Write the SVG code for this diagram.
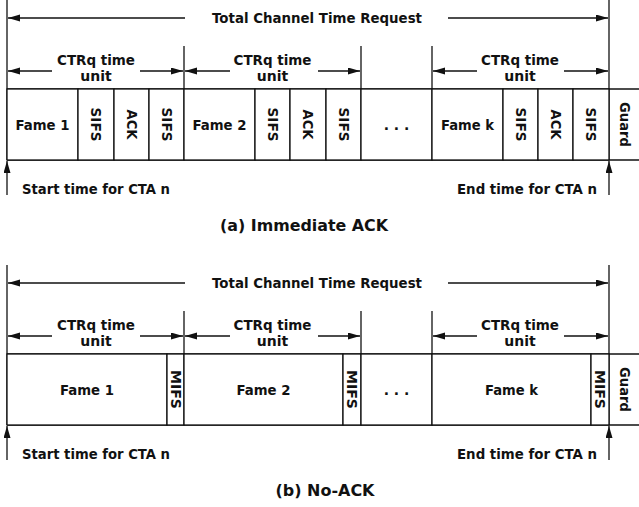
<svg xmlns="http://www.w3.org/2000/svg" width="639" height="507" viewBox="0 0 639 507">
<defs>
<style>
text{font-family:"DejaVu Sans","Liberation Sans",sans-serif;font-weight:bold;font-size:14px;fill:#111;}
.cap{font-size:16px;}
.c{text-anchor:middle;}
.cell{fill:#fff;stroke:#111;stroke-width:1.3;}
.ln{stroke:#111;stroke-width:1.3;fill:none;}
.ar{stroke:#111;stroke-width:1.3;fill:none;marker-end:url(#ah);}
</style>
<marker id="ah" markerUnits="userSpaceOnUse" markerWidth="13" markerHeight="8" refX="12" refY="3.5" orient="auto">
<path d="M0,0 L12,3.5 L0,7 z" fill="#111"/>
</marker>
</defs>
<rect width="639" height="507" fill="#fff"/>

<!-- ===== (a) Immediate ACK ===== -->
<g id="a-frame">
<line class="ln" x1="7" y1="89" x2="639" y2="89"/>
<line class="ln" x1="7" y1="160" x2="639" y2="160"/>
<line class="ln" x1="7" y1="0" x2="7" y2="160"/>
<line class="ln" x1="609" y1="0" x2="609" y2="160"/>
<line class="ln" x1="184" y1="46" x2="184" y2="160"/>
<line class="ln" x1="361" y1="46" x2="361" y2="160"/>
<line class="ln" x1="432" y1="46" x2="432" y2="160"/>
<text class="c" x="317" y="23" textLength="210" lengthAdjust="spacingAndGlyphs">Total Channel Time Request</text>
</g>
<g id="a-unit1"><text class="c" x="96" y="64.5" textLength="78" lengthAdjust="spacingAndGlyphs">CTRq time</text><text class="c" x="96" y="80.5">unit</text></g>
<g id="a-unit2"><text class="c" x="272.5" y="64.5" textLength="78" lengthAdjust="spacingAndGlyphs">CTRq time</text><text class="c" x="272.5" y="80.5">unit</text></g>
<g id="a-unit3"><text class="c" x="520" y="64.5" textLength="78" lengthAdjust="spacingAndGlyphs">CTRq time</text><text class="c" x="520" y="80.5">unit</text></g>

<g id="a-f1"><rect class="cell" x="7" y="89" width="71" height="71"/><text class="c" x="42.5" y="129.5" textLength="54" lengthAdjust="spacingAndGlyphs">Fame 1</text></g>
<g id="a-s1"><rect class="cell" x="78" y="89" width="36" height="71"/><text class="c" transform="translate(96,124.5) rotate(90)" y="5" textLength="34" lengthAdjust="spacingAndGlyphs">SIFS</text></g>
<g id="a-a1"><rect class="cell" x="114" y="89" width="35" height="71"/><text class="c" transform="translate(131.5,124.5) rotate(90)" y="5" textLength="30" lengthAdjust="spacingAndGlyphs">ACK</text></g>
<g id="a-s2"><rect class="cell" x="149" y="89" width="35" height="71"/><text class="c" transform="translate(166.5,124.5) rotate(90)" y="5" textLength="34" lengthAdjust="spacingAndGlyphs">SIFS</text></g>
<g id="a-f2"><rect class="cell" x="184" y="89" width="71" height="71"/><text class="c" x="219.5" y="129.5" textLength="54" lengthAdjust="spacingAndGlyphs">Fame 2</text></g>
<g id="a-s3"><rect class="cell" x="255" y="89" width="35" height="71"/><text class="c" transform="translate(272.5,124.5) rotate(90)" y="5" textLength="34" lengthAdjust="spacingAndGlyphs">SIFS</text></g>
<g id="a-a2"><rect class="cell" x="290" y="89" width="36" height="71"/><text class="c" transform="translate(308,124.5) rotate(90)" y="5" textLength="30" lengthAdjust="spacingAndGlyphs">ACK</text></g>
<g id="a-s4"><rect class="cell" x="326" y="89" width="35" height="71"/><text class="c" transform="translate(343.5,124.5) rotate(90)" y="5" textLength="34" lengthAdjust="spacingAndGlyphs">SIFS</text></g>
<g id="a-dots"><rect class="cell" x="361" y="89" width="71" height="71"/><text class="c" x="396.5" y="129.5">. . .</text></g>
<g id="a-fk"><rect class="cell" x="432" y="89" width="71" height="71"/><text class="c" x="467.5" y="129.5" textLength="53" lengthAdjust="spacingAndGlyphs">Fame k</text></g>
<g id="a-s5"><rect class="cell" x="503" y="89" width="35" height="71"/><text class="c" transform="translate(520.5,124.5) rotate(90)" y="5" textLength="34" lengthAdjust="spacingAndGlyphs">SIFS</text></g>
<g id="a-a3"><rect class="cell" x="538" y="89" width="35" height="71"/><text class="c" transform="translate(555.5,124.5) rotate(90)" y="5" textLength="30" lengthAdjust="spacingAndGlyphs">ACK</text></g>
<g id="a-s6"><rect class="cell" x="573" y="89" width="36" height="71"/><text class="c" transform="translate(591,124.5) rotate(90)" y="5" textLength="34" lengthAdjust="spacingAndGlyphs">SIFS</text></g>
<g id="a-guard"><text class="c" transform="translate(624.5,124.5) rotate(90)" y="5" textLength="45" lengthAdjust="spacingAndGlyphs">Guard</text></g>
<g id="a-start"><text x="22" y="194" textLength="148" lengthAdjust="spacingAndGlyphs">Start time for CTA n</text></g>
<g id="a-end"><text x="457" y="194" textLength="140" lengthAdjust="spacingAndGlyphs">End time for CTA n</text></g>
<g id="a-caption"><text class="c cap" x="304" y="231" textLength="168" lengthAdjust="spacingAndGlyphs">(a) Immediate ACK</text></g>

<!-- ===== (b) No-ACK ===== -->
<g id="b-frame">
<line class="ln" x1="7" y1="354" x2="639" y2="354"/>
<line class="ln" x1="7" y1="425" x2="639" y2="425"/>
<line class="ln" x1="7" y1="265" x2="7" y2="425"/>
<line class="ln" x1="609" y1="265" x2="609" y2="425"/>
<line class="ln" x1="184" y1="311" x2="184" y2="425"/>
<line class="ln" x1="361" y1="311" x2="361" y2="425"/>
<line class="ln" x1="432" y1="311" x2="432" y2="425"/>
<text class="c" x="317" y="288" textLength="210" lengthAdjust="spacingAndGlyphs">Total Channel Time Request</text>
</g>
<g id="b-unit1"><text class="c" x="96" y="329.5" textLength="78" lengthAdjust="spacingAndGlyphs">CTRq time</text><text class="c" x="96" y="345.5">unit</text></g>
<g id="b-unit2"><text class="c" x="272.5" y="329.5" textLength="78" lengthAdjust="spacingAndGlyphs">CTRq time</text><text class="c" x="272.5" y="345.5">unit</text></g>
<g id="b-unit3"><text class="c" x="520" y="329.5" textLength="78" lengthAdjust="spacingAndGlyphs">CTRq time</text><text class="c" x="520" y="345.5">unit</text></g>

<g id="b-f1"><rect class="cell" x="7" y="354" width="160" height="71"/><text class="c" x="87" y="394.5" textLength="54" lengthAdjust="spacingAndGlyphs">Fame 1</text></g>
<g id="b-m1"><rect class="cell" x="167" y="354" width="17" height="71"/><text class="c" transform="translate(175.5,389.5) rotate(90)" y="5" textLength="39" lengthAdjust="spacingAndGlyphs">MIFS</text></g>
<g id="b-f2"><rect class="cell" x="184" y="354" width="159" height="71"/><text class="c" x="263.5" y="394.5" textLength="54" lengthAdjust="spacingAndGlyphs">Fame 2</text></g>
<g id="b-m2"><rect class="cell" x="343" y="354" width="18" height="71"/><text class="c" transform="translate(352,389.5) rotate(90)" y="5" textLength="39" lengthAdjust="spacingAndGlyphs">MIFS</text></g>
<g id="b-dots"><rect class="cell" x="361" y="354" width="71" height="71"/><text class="c" x="396.5" y="394.5">. . .</text></g>
<g id="b-fk"><rect class="cell" x="432" y="354" width="159" height="71"/><text class="c" x="511.5" y="394.5" textLength="53" lengthAdjust="spacingAndGlyphs">Fame k</text></g>
<g id="b-m3"><rect class="cell" x="591" y="354" width="18" height="71"/><text class="c" transform="translate(600,389.5) rotate(90)" y="5" textLength="39" lengthAdjust="spacingAndGlyphs">MIFS</text></g>
<g id="b-guard"><text class="c" transform="translate(624.5,389.5) rotate(90)" y="5" textLength="45" lengthAdjust="spacingAndGlyphs">Guard</text></g>
<g id="b-start"><text x="22" y="459" textLength="148" lengthAdjust="spacingAndGlyphs">Start time for CTA n</text></g>
<g id="b-end"><text x="457" y="459" textLength="140" lengthAdjust="spacingAndGlyphs">End time for CTA n</text></g>
<g id="b-caption"><text class="c cap" x="325" y="496" textLength="99" lengthAdjust="spacingAndGlyphs">(b) No-ACK</text></g>

<g id="connectors">
<line class="ar" x1="185" y1="18" x2="8" y2="18"/>
<line class="ar" x1="448" y1="18" x2="608" y2="18"/>
<line class="ar" x1="52" y1="71" x2="8" y2="71"/>
<line class="ar" x1="140" y1="71" x2="183" y2="71"/>
<line class="ar" x1="230" y1="71" x2="185" y2="71"/>
<line class="ar" x1="318" y1="71" x2="360" y2="71"/>
<line class="ar" x1="477" y1="71" x2="433" y2="71"/>
<line class="ar" x1="564" y1="71" x2="608" y2="71"/>
<line class="ar" x1="7" y1="195" x2="7" y2="161"/>
<line class="ar" x1="609" y1="195" x2="609" y2="161"/>

<line class="ar" x1="185" y1="283" x2="8" y2="283"/>
<line class="ar" x1="448" y1="283" x2="608" y2="283"/>
<line class="ar" x1="52" y1="336" x2="8" y2="336"/>
<line class="ar" x1="140" y1="336" x2="183" y2="336"/>
<line class="ar" x1="230" y1="336" x2="185" y2="336"/>
<line class="ar" x1="318" y1="336" x2="360" y2="336"/>
<line class="ar" x1="477" y1="336" x2="433" y2="336"/>
<line class="ar" x1="564" y1="336" x2="608" y2="336"/>
<line class="ar" x1="7" y1="460" x2="7" y2="426"/>
<line class="ar" x1="609" y1="460" x2="609" y2="426"/>
</g>
</svg>
